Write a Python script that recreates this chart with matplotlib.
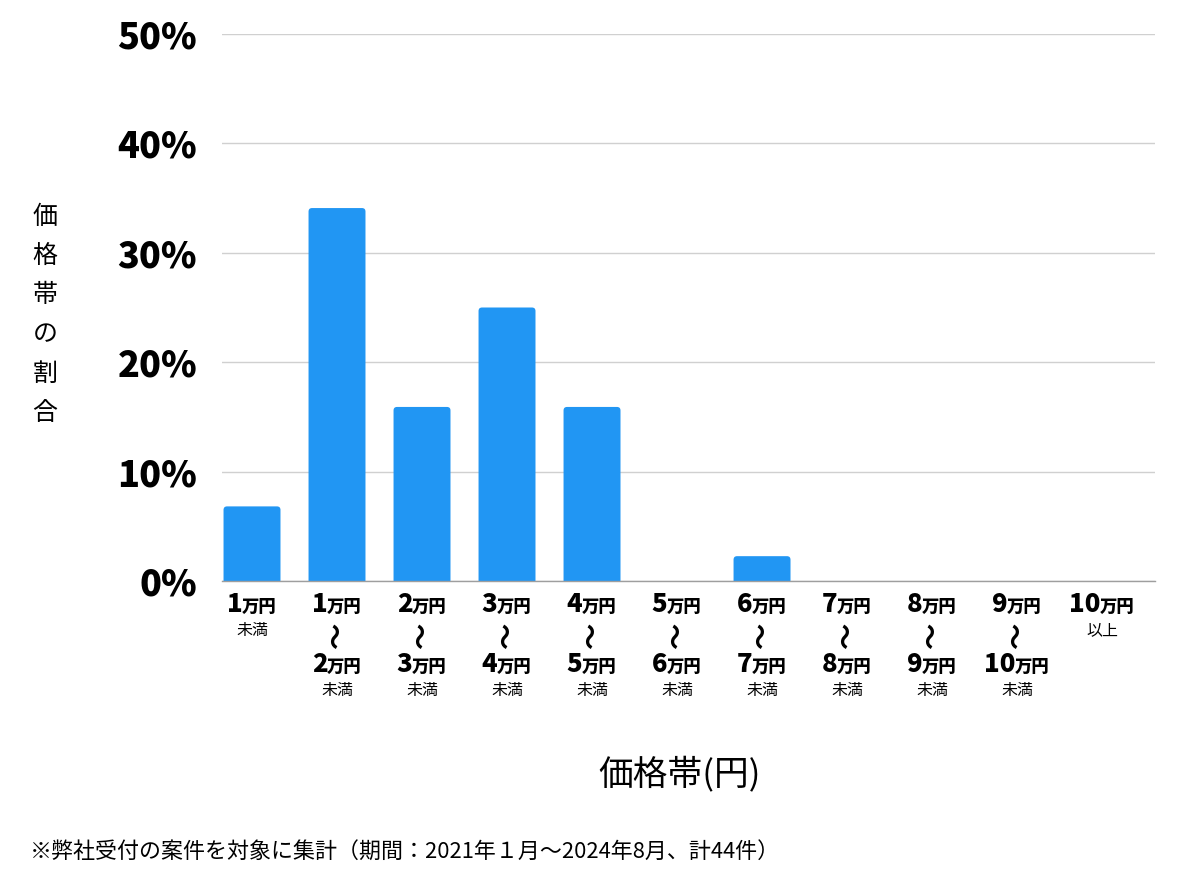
import matplotlib
matplotlib.use("Agg")
import matplotlib.pyplot as plt
from matplotlib import transforms
from matplotlib.patches import FancyBboxPatch

plt.rcParams['font.family'] = ['Noto Sans CJK JP', 'DejaVu Sans']

# ---- data ----
low_labels = ["1", "1", "2", "3", "4", "5", "6", "7", "8", "9", "10"]
high_labels = [None, "2", "3", "4", "5", "6", "7", "8", "9", "10", None]
suffix_labels = ["未満", "未満", "未満", "未満", "未満", "未満", "未満", "未満", "未満", "未満", "以上"]
values = [6.82, 34.09, 15.91, 25.0, 15.91, 0.0, 2.27, 0.0, 0.0, 0.0, 0.0]
y_ticks = [0, 10, 20, 30, 40, 50]
y_tick_labels = [f"{v}%" for v in y_ticks]
y_label = "価格帯の割合"
x_label = "価格帯(円)"
footnote = "※弊社受付の案件を対象に集計（期間：2021年１月〜2024年8月、計44件）"

W, H = 1200, 874
fig = plt.figure(figsize=(W / 100, H / 100), dpi=100)
ax_left, ax_bottom, ax_w, ax_h = 222, 581, 933, 547
ax = fig.add_axes([ax_left / W, 1 - ax_bottom / H, ax_w / W, ax_h / H])

x = list(range(len(values)))
xlim = (-0.353, 10.623)
ylim = (0, 50)
ax.set_xlim(*xlim)
ax.set_ylim(*ylim)
bars = ax.bar(x, values, width=0.67, color="#2196f3", zorder=2)

# rounded top corners (replace rectangles with rounded patches)
xu_per_px = (xlim[1] - xlim[0]) / ax_w
yu_per_px = (ylim[1] - ylim[0]) / ax_h
aspect = yu_per_px / xu_per_px
for b in bars:
    h = b.get_height()
    if h <= 0:
        continue
    b.set_visible(False)
    ext = 4 * yu_per_px
    p = FancyBboxPatch((b.get_x(), -ext), b.get_width(), h + ext,
                       boxstyle=f"round,pad=0,rounding_size={3.5 * xu_per_px}",
                       mutation_aspect=aspect, facecolor="#2196f3",
                       edgecolor="none", zorder=2, clip_on=True)
    ax.add_patch(p)

ax.set_yticks(y_ticks)
ax.set_yticklabels(y_tick_labels, fontsize=26, fontweight="black")
ax.tick_params(axis="y", length=0, pad=18)
ax.set_xticks([])
ax.grid(axis="y", color="#d0d0d0", linewidth=1, zorder=0)
for s in ["top", "right", "left"]:
    ax.spines[s].set_visible(False)
ax.spines["bottom"].set_color("#9e9e9e")
ax.spines["bottom"].set_linewidth(1)
ax.spines["bottom"].set_zorder(3)

fig.canvas.draw()
renderer = fig.canvas.get_renderer()
base = transforms.blended_transform_factory(ax.transData, ax.transAxes)


def place(i, dy, s, **kw):
    tr = transforms.offset_copy(base, fig=fig, x=0, y=-dy, units="dots")
    return ax.text(i, 0, s, transform=tr, **kw)


def amount(i, dy, num):
    t1 = place(i, dy, num, fontsize=18.5, fontweight="black", ha="left", va="baseline")
    t2 = place(i, dy, "万円", fontsize=12.5, fontweight="black", ha="left", va="baseline")
    w1 = t1.get_window_extent(renderer).width
    w2 = t2.get_window_extent(renderer).width
    tot = w1 + w2
    t1.set_transform(transforms.offset_copy(base, fig=fig, x=-tot / 2, y=-dy, units="dots"))
    t2.set_transform(transforms.offset_copy(base, fig=fig, x=-tot / 2 + w1 - 1, y=-dy, units="dots"))


for i in x:
    amount(i, 31, low_labels[i])
    if high_labels[i] is None:
        place(i, 54, suffix_labels[i], fontsize=11.5, ha="center", va="baseline")
    else:
        place(i, 55, "〜", fontsize=19, fontweight="bold", rotation=90,
              ha="center", va="center")
        amount(i, 91, high_labels[i])
        place(i, 114, suffix_labels[i], fontsize=11.5, ha="center", va="baseline")

# y label, vertical characters
for k, ch in enumerate(y_label):
    fig.text(45 / W, 1 - (217 + k * 39.2) / H, ch, fontsize=18, ha="center", va="center")

fig.text(680 / W, 1 - 774 / H, x_label, fontsize=25, ha="center", va="center")
fig.text(30 / W, 1 - 852 / H, footnote, fontsize=15.8, ha="left", va="center")

fig.savefig("out.png", dpi=100, facecolor="white")
